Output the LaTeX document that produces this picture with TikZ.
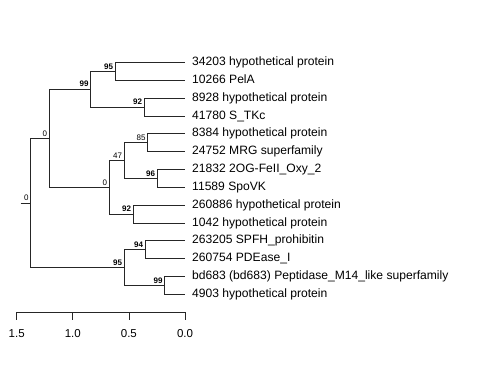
\documentclass[tikz,border=0pt]{standalone}
\usepackage{fontspec}
\setmainfont{Liberation Sans}
\begin{document}
\begin{tikzpicture}[x=1pt,y=-1pt,
  branch/.style={draw=black!85, line width=0.8pt},
  leaflabel/.style={anchor=base west, inner sep=0pt, font=\fontsize{12.1}{12}\selectfont},
  bs/.style={anchor=south east, inner sep=0pt, font=\fontsize{8}{8}\selectfont\bfseries},
  bsn/.style={anchor=south east, inner sep=0pt, font=\fontsize{8}{8}\selectfont},
  axlabel/.style={anchor=base, inner sep=0pt, font=\fontsize{11.5}{11.5}\selectfont}]
\useasboundingbox (0,0) rectangle (480,384);
% leaf tips
\coordinate (l1) at (185,62.5);
\coordinate (l2) at (185,80.3);
\coordinate (l3) at (185,98.2);
\coordinate (l4) at (185,116.0);
\coordinate (l5) at (185,133.8);
\coordinate (l6) at (185,151.7);
\coordinate (l7) at (185,169.5);
\coordinate (l8) at (185,187.3);
\coordinate (l9) at (185,205.2);
\coordinate (l10) at (185,223.0);
\coordinate (l11) at (185,240.8);
\coordinate (l12) at (185,258.7);
\coordinate (l13) at (185,276.5);
\coordinate (l14) at (185,294.3);
% internal nodes
\coordinate (D) at (115.3,71.4);
\coordinate (E) at (144.3,107.1);
\coordinate (B) at (90.7,89.2);
\coordinate (H) at (147.7,142.7);
\coordinate (I) at (157.3,178.4);
\coordinate (F) at (124.3,160.6);
\coordinate (G) at (133.3,214.1);
\coordinate (C) at (109.3,187.3);
\coordinate (A) at (49.3,138.3);
\coordinate (K) at (145.3,249.7);
\coordinate (L) at (164.7,285.4);
\coordinate (J) at (124.3,267.6);
\coordinate (R) at (30.7,203);
\coordinate (R0) at (20.7,203);
% branches
\draw[branch] (R0) -- (R);
\draw[branch] (R) |- (A); \draw[branch] (R) |- (J);
\draw[branch] (A) |- (B); \draw[branch] (A) |- (C);
\draw[branch] (B) |- (D); \draw[branch] (B) |- (E);
\draw[branch] (D) |- (l1); \draw[branch] (D) |- (l2);
\draw[branch] (E) |- (l3); \draw[branch] (E) |- (l4);
\draw[branch] (C) |- (F); \draw[branch] (C) |- (G);
\draw[branch] (F) |- (H); \draw[branch] (F) |- (I);
\draw[branch] (H) |- (l5); \draw[branch] (H) |- (l6);
\draw[branch] (I) |- (l7); \draw[branch] (I) |- (l8);
\draw[branch] (G) |- (l9); \draw[branch] (G) |- (l10);
\draw[branch] (J) |- (K); \draw[branch] (J) |- (L);
\draw[branch] (K) |- (l11); \draw[branch] (K) |- (l12);
\draw[branch] (L) |- (l13); \draw[branch] (L) |- (l14);
% support values
\node[bsn] (sR) at ([shift={(-2,-2)}]R) {0};
\node[bsn] (sA) at ([shift={(-2,-2)}]A) {0};
\node[bs] (sB) at ([shift={(-2,-2)}]B) {99};
\node[bs] (sD) at ([shift={(-2,-2)}]D) {95};
\node[bs] (sE) at ([shift={(-2,-2)}]E) {92};
\node[bsn] (sC) at ([shift={(-2,-2)}]C) {0};
\node[bsn] (sF) at ([shift={(-2,-2)}]F) {47};
\node[bsn] (sH) at ([shift={(-2,-2)}]H) {85};
\node[bs] (sI) at ([shift={(-2,-2)}]I) {96};
\node[bs] (sG) at ([shift={(-2,-2)}]G) {92};
\node[bs] (sJ) at ([shift={(-2,-2)}]J) {95};
\node[bs] (sK) at ([shift={(-2,-2)}]K) {94};
\node[bs] (sL) at ([shift={(-2,-2)}]L) {99};
% leaf labels
\node[leaflabel] (t1) at (192,65.5) {34203 hypothetical protein};
\node[leaflabel] (t2) at (192,83.3) {10266 PelA};
\node[leaflabel] (t3) at (192,101.2) {8928 hypothetical protein};
\node[leaflabel] (t4) at (192,119.0) {41780 S\_TKc};
\node[leaflabel] (t5) at (192,136.8) {8384 hypothetical protein};
\node[leaflabel] (t6) at (192,154.7) {24752 MRG superfamily};
\node[leaflabel] (t7) at (192,172.5) {21832 2OG-FeII\_Oxy\_2};
\node[leaflabel] (t8) at (192,190.3) {11589 SpoVK};
\node[leaflabel] (t9) at (192,208.2) {260886 hypothetical protein};
\node[leaflabel] (t10) at (192,226.0) {1042 hypothetical protein};
\node[leaflabel] (t11) at (192,243.8) {263205 SPFH\_prohibitin};
\node[leaflabel] (t12) at (192,261.7) {260754 PDEase\_I};
\node[leaflabel] (t13) at (192,279.5) {bd683 (bd683) Peptidase\_M14\_like superfamily};
\node[leaflabel] (t14) at (192,297.3) {4903 hypothetical protein};
% axis
\coordinate (a0) at (16.7,312);
\coordinate (a1) at (72.8,312);
\coordinate (a2) at (128.9,312);
\coordinate (a3) at (185,312);
\draw[branch] (a0) -- (a3);
\foreach \p in {a0,a1,a2,a3} \draw[branch] (\p) -- ++(0,7.5);
\node[axlabel] (x0) at (16.7,337.8) {1.5};
\node[axlabel] (x1) at (72.8,337.8) {1.0};
\node[axlabel] (x2) at (128.9,337.8) {0.5};
\node[axlabel] (x3) at (185,337.8) {0.0};
\end{tikzpicture}
\end{document}
